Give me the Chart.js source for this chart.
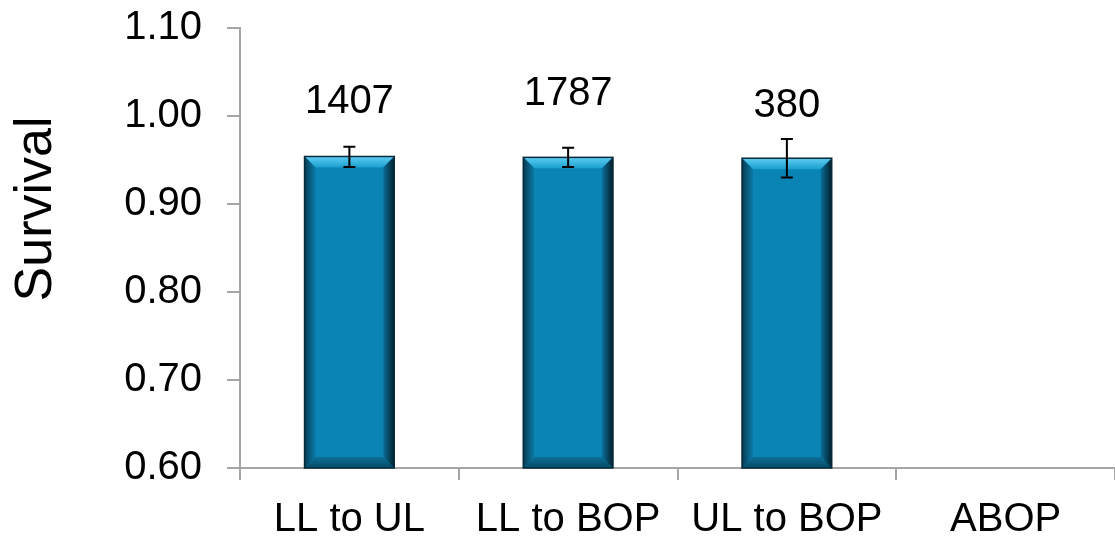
<!DOCTYPE html>
<html lang="en">
<head>
<meta charset="UTF-8">
<title>Survival</title>
<style>
  body { margin: 0; background: #fff; }
</style>
<script src="https://cdn.jsdelivr.net/npm/chart.js"></script>
</head>
<body>
<canvas id="chart" width="1115" height="538"></canvas>
<script>
// data
const categories = ['LL to UL', 'LL to BOP', 'UL to BOP', 'ABOP'];
const survival = [0.954, 0.953, 0.952, null];
const errLow = [0.942, 0.942, 0.930, null];
const errHigh = [0.965, 0.964, 0.974, null];
const counts = ['1407', '1787', '380', ''];
const countY = [1.016, 1.025, 1.011, null];
const yTicks = [0.60, 0.70, 0.80, 0.90, 1.00, 1.10];
const yTitle = 'Survival';

const FONT = "'Liberation Sans', Arial, sans-serif";

// bevelled look of the bars
const bevel = {
  id: 'bevel',
  afterDatasetsDraw(chart) {
    const ctx = chart.ctx;
    const area = chart.chartArea;
    chart.getDatasetMeta(0).data.forEach((bar, i) => {
      if (survival[i] == null) return;
      const l = bar.x - bar.width / 2, r = bar.x + bar.width / 2;
      const t = bar.y, b = Math.min(bar.base, area.bottom);
      const e = 11;
      ctx.save();
      // top bevel
      let g = ctx.createLinearGradient(0, t, 0, t + e);
      g.addColorStop(0, '#5ecdf2'); g.addColorStop(1, '#1a9fd0');
      ctx.fillStyle = g;
      ctx.beginPath(); ctx.moveTo(l, t); ctx.lineTo(r, t); ctx.lineTo(r - e, t + e); ctx.lineTo(l + e, t + e); ctx.closePath(); ctx.fill();
      // bottom bevel
      g = ctx.createLinearGradient(0, b - e, 0, b);
      g.addColorStop(0, '#0b6f96'); g.addColorStop(1, '#064a66');
      ctx.fillStyle = g;
      ctx.beginPath(); ctx.moveTo(l, b); ctx.lineTo(r, b); ctx.lineTo(r - e, b - e); ctx.lineTo(l + e, b - e); ctx.closePath(); ctx.fill();
      // left bevel
      g = ctx.createLinearGradient(l, 0, l + e, 0);
      g.addColorStop(0, '#063c52'); g.addColorStop(1, '#0a7ba8');
      ctx.fillStyle = g;
      ctx.beginPath(); ctx.moveTo(l, t); ctx.lineTo(l + e, t + e); ctx.lineTo(l + e, b - e); ctx.lineTo(l, b); ctx.closePath(); ctx.fill();
      // right bevel
      g = ctx.createLinearGradient(r - e, 0, r, 0);
      g.addColorStop(0, '#0a6f98'); g.addColorStop(1, '#031f2c');
      ctx.fillStyle = g;
      ctx.beginPath(); ctx.moveTo(r, t); ctx.lineTo(r - e, t + e); ctx.lineTo(r - e, b - e); ctx.lineTo(r, b); ctx.closePath(); ctx.fill();
      ctx.strokeStyle = '#052a3a';
      ctx.lineWidth = 1.5;
      ctx.strokeRect(l, t, r - l, b - t);
      ctx.restore();
    });
  }
};

// error bars, the counts above the bars and the y title
const extras = {
  id: 'extras',
  afterDatasetsDraw(chart) {
    const ctx = chart.ctx;
    const y = chart.scales.y;
    chart.getDatasetMeta(0).data.forEach((bar, i) => {
      ctx.save();
      if (errLow[i] != null) {
        const yl = y.getPixelForValue(errLow[i]);
        const yh = y.getPixelForValue(errHigh[i]);
        ctx.strokeStyle = '#000';
        ctx.lineWidth = 2;
        ctx.beginPath();
        ctx.moveTo(bar.x, yl); ctx.lineTo(bar.x, yh);
        ctx.moveTo(bar.x - 6, yl); ctx.lineTo(bar.x + 6, yl);
        ctx.moveTo(bar.x - 6, yh); ctx.lineTo(bar.x + 6, yh);
        ctx.stroke();
      }
      if (countY[i] != null) {
        ctx.fillStyle = '#000';
        ctx.font = '40px ' + FONT;
        ctx.textAlign = 'center';
        ctx.textBaseline = 'middle';
        ctx.fillText(counts[i], bar.x, y.getPixelForValue(countY[i]));
      }
      ctx.restore();
    });
    // title sits a bit above the middle of the axis, like the original
    ctx.save();
    ctx.translate(37, y.getPixelForValue(0.9) + 5);
    ctx.rotate(-Math.PI / 2);
    ctx.fillStyle = '#000';
    ctx.font = '52px ' + FONT;
    ctx.textAlign = 'center';
    ctx.textBaseline = 'middle';
    ctx.fillText(yTitle, 0, 0);
    ctx.restore();
  }
};

new Chart(document.getElementById('chart'), {
  type: 'bar',
  data: {
    labels: categories,
    datasets: [{
      data: survival,
      backgroundColor: '#0a84b4',
      borderWidth: 0,
      categoryPercentage: 1,
      barPercentage: 0.41
    }]
  },
  options: {
    responsive: false,
    animation: false,
    devicePixelRatio: 1,
    layout: { padding: { top: 28, right: 0, left: 0, bottom: 0 } },
    plugins: { legend: { display: false }, tooltip: { enabled: false } },
    scales: {
      x: {
        offset: true,
        grid: { offset: true, drawOnChartArea: false, drawTicks: true, tickLength: 12, color: '#a6a6a6', lineWidth: 2 },
        border: { color: '#a6a6a6', width: 2 },
        ticks: { color: '#000', font: { family: FONT, size: 40 }, padding: 16, maxRotation: 0, autoSkip: false },
        afterFit(s) { s.height = 70; s.paddingLeft = 0; s.paddingRight = 0; }
      },
      y: {
        min: 0.6,
        max: 1.1,
        afterBuildTicks(s) { s.ticks = yTicks.map(v => ({ value: v })); },
        grid: { drawOnChartArea: false, drawTicks: true, tickLength: 13, color: '#a6a6a6', lineWidth: 2 },
        border: { color: '#a6a6a6', width: 2 },
        ticks: { color: '#000', font: { family: FONT, size: 40 }, padding: 25, callback: v => v.toFixed(2) },
        afterFit(s) { s.width = 240; s.paddingTop = 0; s.paddingBottom = 0; }
      }
    }
  },
  plugins: [bevel, extras]
});
</script>
</body>
</html>
